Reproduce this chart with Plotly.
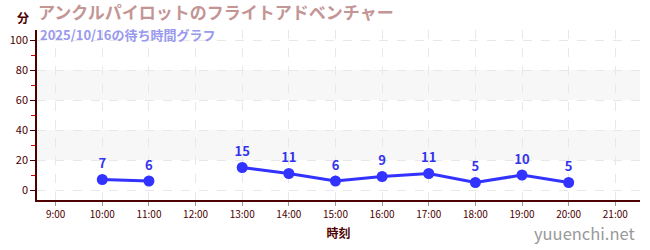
import plotly.graph_objects as go

hours = [9, 10, 11, 12, 13, 14, 15, 16, 17, 18, 19, 20, 21]
tick_labels = ["9:00", "10:00", "11:00", "12:00", "13:00", "14:00", "15:00",
               "16:00", "17:00", "18:00", "19:00", "20:00", "21:00"]
wait_hours = [10, 11, 12, 13, 14, 15, 16, 17, 18, 19, 20]
wait_minutes = [7, 6, None, 15, 11, 6, 9, 11, 5, 10, 5]

title_text = "アンクルパイロットのフライトアドベンチャー"
subtitle_text = "2025/10/16の待ち時間グラフ"

font = "Noto Sans CJK JP"
axis_col = "#4d0000"

fig = go.Figure()
fig.add_trace(go.Scatter(
    x=wait_hours, y=wait_minutes, mode="lines+markers+text",
    text=[("" if v is None else str(v)) for v in wait_minutes],
    textposition="top center",
    textfont=dict(family=font, size=13, color="#3333ee", weight="bold"),
    line=dict(color="#3333ff", width=3),
    marker=dict(color="#3333ff", size=11),
    connectgaps=False, cliponaxis=False, hoverinfo="skip"))

for y0, y1 in [(20, 40), (60, 80)]:
    fig.add_shape(type="rect", xref="paper", x0=0, x1=1, y0=y0, y1=y1,
                  fillcolor="#f7f7f7", line_width=0, layer="below")

fig.update_layout(
    width=650, height=250, margin=dict(l=31, r=10, t=30, b=50),
    paper_bgcolor="white", plot_bgcolor="white", showlegend=False,
    font=dict(family=font),
    xaxis=dict(range=[8.6, 21.53], tickvals=hours, ticktext=tick_labels,
               showline=True, linecolor=axis_col, linewidth=1.5,
               ticks="outside", tickcolor="#999999", ticklen=4,
               tickfont=dict(size=10, color=axis_col),
               showgrid=True, gridcolor="#e8e8e8", griddash="dash", zeroline=False,
               title=dict(text="時刻", font=dict(size=12, color=axis_col, weight="bold"), standoff=10)),
    yaxis=dict(range=[-6.67, 106.67], tickvals=[0, 20, 40, 60, 80, 100],
               showline=True, linecolor=axis_col, linewidth=1.5,
               ticks="outside", tickcolor=axis_col, ticklen=5,
               tickfont=dict(size=11, color=axis_col),
               minor=dict(tickvals=[10, 30, 50, 70, 90], ticks="outside", ticklen=4, tickcolor="#dd0000", showgrid=False),
               showgrid=True, gridcolor="#e8e8e8", griddash="dash", zeroline=False),
)

fig.add_annotation(text="分", xref="paper", yref="paper", x=0, y=1.0, xanchor="center", yanchor="middle",
                   showarrow=False, font=dict(size=12, color=axis_col, weight="bold"), xshift=-14, yshift=13)
fig.add_annotation(text=title_text, xref="paper", yref="paper", x=0, y=1.0, xanchor="left", yanchor="middle",
                   showarrow=False, borderpad=0, font=dict(size=17, color="#c49595", weight="bold"), xshift=0, yshift=19)
fig.add_annotation(text=subtitle_text, xref="paper", yref="paper", x=0, y=1.0, xanchor="left", yanchor="middle",
                   showarrow=False, borderpad=0, font=dict(size=13, color="#9999ee", weight="bold"), xshift=2, yshift=-4)
fig.add_annotation(text="yuuenchi.net", xref="paper", yref="paper", x=1.0, y=0, xanchor="right", yanchor="middle",
                   showarrow=False, font=dict(size=16.5, color="#999999"), yshift=-33, xshift=-3)

fig.write_html("out.html")
